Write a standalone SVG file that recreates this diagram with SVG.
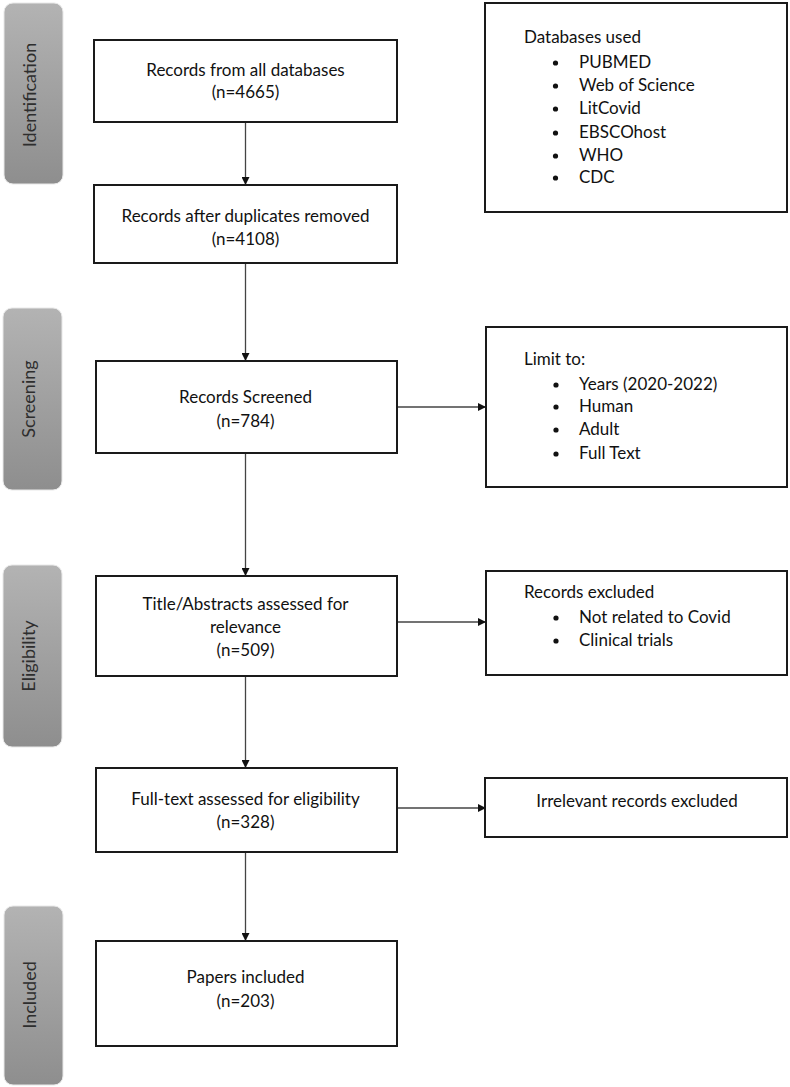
<svg xmlns="http://www.w3.org/2000/svg" width="790" height="1087" viewBox="0 0 790 1087">
<style>
.box{fill:#fff;stroke:#1a1a1a;stroke-width:2}
.bar{fill:url(#g);stroke:#e8e8e8;stroke-width:1}
.t{font-family:Lato,"Open Sans","Liberation Sans",sans-serif;font-size:17px;fill:#111}
.c{text-anchor:middle}
.bt{font-family:Lato,"Open Sans","Liberation Sans",sans-serif;font-size:18px;fill:#2e2e2e;text-anchor:middle}
.con{stroke:#444;stroke-width:1.3;fill:none;marker-end:url(#ah)}
.dot{fill:#111}
</style>
<defs>
<linearGradient id="g" x1="0" y1="0" x2="0" y2="1">
<stop offset="0" stop-color="#b3b3b3"/>
<stop offset="1" stop-color="#8e8e8e"/>
</linearGradient>
<marker id="ah" viewBox="0 0 10 10" refX="10" refY="5" markerWidth="8" markerHeight="8" markerUnits="userSpaceOnUse" orient="auto">
<path d="M0,0 L10,5 L0,10 z" fill="#111"/>
</marker>
</defs>
<rect width="790" height="1087" fill="#fff"/>

<g id="bar-identification">
<rect class="bar" x="4" y="3" width="59" height="181" rx="9"/>
<text class="bt" transform="translate(36,95) rotate(-90)">Identification</text>
</g>
<g id="bar-screening">
<rect class="bar" x="3" y="308" width="59" height="182" rx="9"/>
<text class="bt" transform="translate(35,399) rotate(-90)">Screening</text>
</g>
<g id="bar-eligibility">
<rect class="bar" x="3" y="565" width="59" height="182" rx="9"/>
<text class="bt" transform="translate(35,656) rotate(-90)">Eligibility</text>
</g>
<g id="bar-included">
<rect class="bar" x="4" y="906" width="59" height="179" rx="9"/>
<text class="bt" transform="translate(36,995) rotate(-90)">Included</text>
</g>

<g id="connectors">
<line class="con" x1="245.5" y1="122" x2="245.5" y2="185"/>
<line class="con" x1="245.5" y1="263" x2="245.5" y2="361"/>
<line class="con" x1="245.5" y1="453" x2="245.5" y2="576"/>
<line class="con" x1="245.5" y1="676" x2="245.5" y2="768"/>
<line class="con" x1="245.5" y1="852" x2="245.5" y2="941"/>
<line class="con" x1="397" y1="407" x2="486" y2="407"/>
<line class="con" x1="397" y1="622" x2="486" y2="622"/>
<line class="con" x1="397" y1="808" x2="486" y2="808"/>
</g>

<g id="n-records-all">
<rect class="box" x="94" y="40" width="303" height="82"/>
<text class="t c" x="245.5" y="76">Records from all databases</text>
<text class="t c" x="245.5" y="98">(n=4665)</text>
</g>
<g id="n-dup-removed">
<rect class="box" x="94" y="185" width="303" height="78"/>
<text class="t c" x="245.5" y="222">Records after duplicates removed</text>
<text class="t c" x="245.5" y="245">(n=4108)</text>
</g>
<g id="n-screened">
<rect class="box" x="96" y="361" width="301" height="92"/>
<text class="t c" x="245.5" y="403">Records Screened</text>
<text class="t c" x="245.5" y="427">(n=784)</text>
</g>
<g id="n-title-abstracts">
<rect class="box" x="96" y="576" width="301" height="100"/>
<text class="t c" x="245.5" y="610">Title/Abstracts assessed for</text>
<text class="t c" x="245.5" y="633">relevance</text>
<text class="t c" x="245.5" y="656">(n=509)</text>
</g>
<g id="n-fulltext">
<rect class="box" x="96" y="768" width="301" height="84"/>
<text class="t c" x="245.5" y="805">Full-text assessed for eligibility</text>
<text class="t c" x="245.5" y="828">(n=328)</text>
</g>
<g id="n-included">
<rect class="box" x="96" y="941" width="301" height="105"/>
<text class="t c" x="245.5" y="983">Papers included</text>
<text class="t c" x="245.5" y="1007">(n=203)</text>
</g>

<g id="n-databases">
<rect class="box" x="485" y="3" width="302" height="209"/>
<text class="t" x="524" y="43">Databases used</text>
<circle class="dot" cx="555.5" cy="63" r="2.6"/><text class="t" x="579" y="68">PUBMED</text>
<circle class="dot" cx="555.5" cy="86" r="2.6"/><text class="t" x="579" y="91">Web of Science</text>
<circle class="dot" cx="555.5" cy="109" r="2.6"/><text class="t" x="579" y="114">LitCovid</text>
<circle class="dot" cx="555.5" cy="133" r="2.6"/><text class="t" x="579" y="138">EBSCOhost</text>
<circle class="dot" cx="555.5" cy="156" r="2.6"/><text class="t" x="579" y="161">WHO</text>
<circle class="dot" cx="555.5" cy="178" r="2.6"/><text class="t" x="579" y="183">CDC</text>
</g>
<g id="n-limit">
<rect class="box" x="486" y="327" width="301" height="160"/>
<text class="t" x="524" y="365">Limit to:</text>
<circle class="dot" cx="556" cy="385" r="2.6"/><text class="t" x="579" y="390">Years (2020-2022)</text>
<circle class="dot" cx="556" cy="407" r="2.6"/><text class="t" x="579" y="412">Human</text>
<circle class="dot" cx="556" cy="430" r="2.6"/><text class="t" x="579" y="435">Adult</text>
<circle class="dot" cx="556" cy="454" r="2.6"/><text class="t" x="579" y="459">Full Text</text>
</g>
<g id="n-records-excluded">
<rect class="box" x="486" y="571" width="301" height="104"/>
<text class="t" x="524" y="598">Records excluded</text>
<circle class="dot" cx="556" cy="618" r="2.6"/><text class="t" x="579" y="623">Not related to Covid</text>
<circle class="dot" cx="556" cy="641" r="2.6"/><text class="t" x="579" y="646">Clinical trials</text>
</g>
<g id="n-irrelevant">
<rect class="box" x="485" y="778" width="302" height="59"/>
<text class="t c" x="637" y="807">Irrelevant records excluded</text>
</g>
</svg>
